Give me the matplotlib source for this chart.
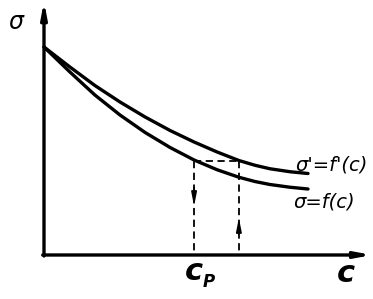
import matplotlib
matplotlib.use("agg")
import matplotlib.pyplot as plt

# curves (c, sigma)
c_vals = [0.0, 0.81, 1.59, 2.375, 3.16, 3.94, 4.69, 5.41, 6.09, 6.59, 7.06, 7.69, 8.25]
sigma_prime = [8.32, 7.52, 6.78, 6.12, 5.52, 4.98, 4.52, 4.12, 3.78, 3.59, 3.45, 3.33, 3.26]
sigma = [8.32, 7.32, 6.40, 5.60, 4.90, 4.30, 3.80, 3.41, 3.11, 2.94, 2.82, 2.71, 2.64]

c_p = 4.69
c_2 = 6.09
sigma_level = 3.78

fig = plt.figure(figsize=(3.73, 2.99), dpi=100)
ax = fig.add_axes([0, 0, 1, 1])
ax.set_xlim(-44 / 32, 329 / 32)
ax.set_ylim(-44 / 25, 255 / 25)
ax.axis("off")

lw = 2.4
# axes with arrows
head = "-|>,head_length=0.9,head_width=0.17"
ax.annotate("", xy=(0, 10.15), xytext=(0, -0.04),
            arrowprops=dict(arrowstyle=head, lw=lw, color="black", shrinkA=0, shrinkB=0))
ax.annotate("", xy=(10.25, 0), xytext=(-0.04, 0),
            arrowprops=dict(arrowstyle=head, lw=lw, color="black", shrinkA=0, shrinkB=0))

ax.plot(c_vals, sigma_prime, color="black", lw=lw, solid_capstyle="round", solid_joinstyle="round")
ax.plot(c_vals, sigma, color="black", lw=lw, solid_capstyle="round", solid_joinstyle="round")

# dashed construction lines
dash = dict(color="black", lw=1.3, linestyle=(0, (4, 2.5)))
ax.plot([c_p, c_2], [sigma_level, sigma_level], **dash)
ax.plot([c_p, c_p], [sigma_level, 0], **dash)
ax.plot([c_2, c_2], [sigma_level, 0], **dash)

small = dict(arrowstyle="-|>,head_length=0.75,head_width=0.15", lw=1.3, color="black",
             shrinkA=0, shrinkB=0)
ax.annotate("", xy=(c_p, 1.96), xytext=(c_p, 2.7), arrowprops=small)
ax.annotate("", xy=(c_2, 1.48), xytext=(c_2, 0.85), arrowprops=small)

tfont = dict(family="DejaVu Sans", style="italic", color="black")
ax.text(-0.87, 9.3, "σ", fontsize=17, ha="center", va="center", **tfont)
ax.text(7.85, 3.6, "σ'=f'(c)", fontsize=14, ha="left", va="center", **tfont)
ax.text(7.8, 2.1, "σ=f(c)", fontsize=14, ha="left", va="center", **tfont)
ax.text(c_p, -0.68, "c", fontsize=22, ha="center", va="center", weight="bold", **tfont)
ax.text(5.16, -1.08, "P", fontsize=12, ha="center", va="center", weight="bold", **tfont)
ax.text(9.44, -0.76, "c", fontsize=22, ha="center", va="center", weight="bold", **tfont)

fig.savefig("out.png", dpi=100)
